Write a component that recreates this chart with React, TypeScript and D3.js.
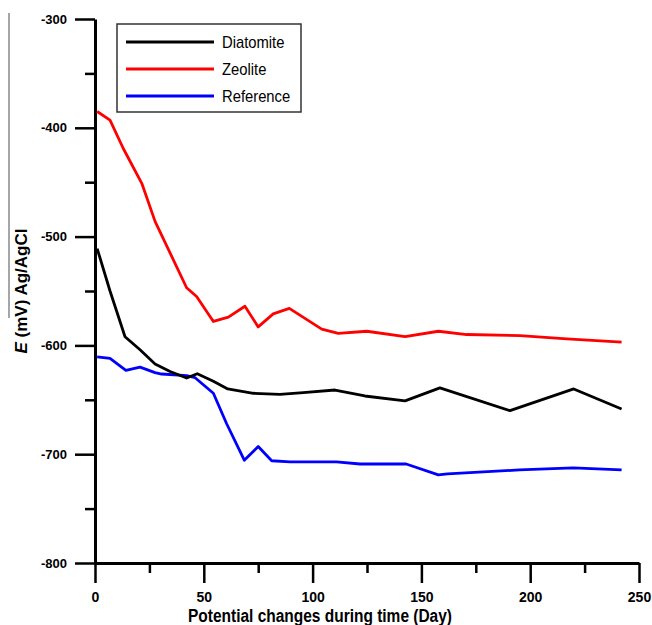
import * as d3 from "d3"
import { useEffect, useRef } from "react"

// Days and potentials (mV vs Ag/AgCl)
const diatomiteDays = [1, 6.9, 13.8, 20.7, 27.6, 34.5, 42.1, 47, 54.4, 61, 72.8, 85, 95.7, 110.3, 124, 142.5, 158.5, 190.7, 220, 242]
const diatomiteE = [-511, -550, -592, -604, -617, -624, -630, -626, -633, -640, -644, -645, -643.4, -641, -646.5, -651, -639, -660, -640, -658.5]

const zeoliteDays = [1, 6.9, 13, 21.5, 27.6, 42.1, 46.7, 54.4, 61.3, 68.9, 75, 81.9, 89.3, 104.2, 111.8, 124.9, 142.5, 157.8, 170.8, 195.3, 216.8, 242]
const zeoliteE = [-385, -393, -419, -451, -486, -547, -555, -578, -574, -564, -583, -571, -566, -585, -589, -587, -592, -587, -590, -591, -594, -597]

const referenceDays = [1, 6.9, 14.2, 20.7, 27.6, 30.6, 42.1, 46, 54.4, 60.5, 68.6, 75, 81.2, 89.6, 111, 121.8, 143, 157.8, 162, 195, 219.8, 242]
const referenceE = [-610.5, -612, -623, -620, -625, -626.3, -627.8, -629.7, -644, -672, -705.5, -693, -706, -707, -707, -709, -709, -719, -718, -714.5, -712.5, -714.5]

const seriesNames = ["Diatomite", "Zeolite", "Reference"]
const seriesColors = ["#000000", "#ff0000", "#0000ff"]

const xMajorTicks = [0, 50, 100, 150, 200, 250]
const xMinorTicks = [25, 75, 125, 175, 225]
const yMajorTicks = [-300, -400, -500, -600, -700, -800]
const yMinorTicks = [-350, -450, -550, -650, -750]

const FONT = "'Liberation Sans', Arial, sans-serif"

const App = () => {
  const svgRef = useRef<SVGSVGElement | null>(null)

  useEffect(() => {
    document.body.style.margin = "0"
    if (!svgRef.current) return

    const svg = d3.select(svgRef.current)
    svg.selectAll("*").remove()

    const x = d3.scaleLinear().domain([0, 250]).range([95, 639])
    const y = d3.scaleLinear().domain([-800, -300]).range([563, 19])

    // stray grey rule at the left edge of the original figure
    svg
      .append("line")
      .attr("x1", 9)
      .attr("x2", 9)
      .attr("y1", 13)
      .attr("y2", 318)
      .attr("stroke", "#888")
      .attr("stroke-width", 1.5)

    // y axis (plain hyphen minus, as in the original)
    const yAxis = svg.append("g").attr("transform", `translate(${x(0)},0)`)
    yAxis.call(
      d3
        .axisLeft(y)
        .tickValues(yMajorTicks)
        .tickSize(20)
        .tickSizeOuter(0)
        .tickPadding(8)
        .tickFormat(d => String(d))
    )
    yAxis
      .append("g")
      .call(d3.axisLeft(y).tickValues(yMinorTicks).tickSize(10).tickFormat(() => ""))
      .select(".domain")
      .remove()

    // x axis
    const xAxis = svg.append("g").attr("transform", `translate(0,${y(-800)})`)
    xAxis.call(
      d3
        .axisBottom(x)
        .tickValues(xMajorTicks)
        .tickSize(20)
        .tickSizeOuter(0)
        .tickPadding(9)
        .tickFormat(d => String(d))
    )
    xAxis
      .append("g")
      .call(d3.axisBottom(x).tickValues(xMinorTicks).tickSize(10).tickFormat(() => ""))
      .select(".domain")
      .remove()

    svg.selectAll(".domain").attr("stroke", "#000").attr("stroke-width", 3)
    svg.selectAll(".tick line").attr("stroke", "#000").attr("stroke-width", 2.5)
    svg
      .selectAll(".tick text")
      .attr("fill", "#000")
      .style("font-family", FONT)
      .style("font-weight", "bold")
    yAxis.selectAll(".tick text").style("font-size", "13px")
    xAxis.selectAll(".tick text").style("font-size", "14px")

    // series lines
    const series = [
      { name: seriesNames[0], color: seriesColors[0], days: diatomiteDays, values: diatomiteE },
      { name: seriesNames[1], color: seriesColors[1], days: zeoliteDays, values: zeoliteE },
      { name: seriesNames[2], color: seriesColors[2], days: referenceDays, values: referenceE }
    ]

    const line = d3
      .line<[number, number]>()
      .x(d => x(d[0]))
      .y(d => y(d[1]))

    const drawOrder = [2, 1, 0]
    drawOrder.forEach(i => {
      const s = series[i]
      const pts = s.days.map((d, j) => [d, s.values[j]] as [number, number])
      svg
        .append("path")
        .datum(pts)
        .attr("d", line)
        .attr("fill", "none")
        .attr("stroke", s.color)
        .attr("stroke-width", 2.8)
        .attr("stroke-linejoin", "round")
    })

    // legend
    const legend = svg.append("g")
    legend
      .append("rect")
      .attr("x", 117)
      .attr("y", 24)
      .attr("width", 184)
      .attr("height", 88)
      .attr("fill", "#fff")
      .attr("stroke", "#333")
      .attr("stroke-width", 1.5)

    series.forEach((s, i) => {
      const ly = 42 + i * 27
      legend
        .append("line")
        .attr("x1", 126)
        .attr("x2", 214)
        .attr("y1", ly)
        .attr("y2", ly)
        .attr("stroke", s.color)
        .attr("stroke-width", 2.8)
      legend
        .append("text")
        .attr("transform", `translate(222,${ly + 6}) scale(0.87,1)`)
        .style("font-family", FONT)
        .style("font-size", "17px")
        .attr("fill", "#000")
        .text(s.name)
    })

    // x title
    svg
      .append("text")
      .attr("x", 320)
      .attr("y", 621.5)
      .attr("text-anchor", "middle")
      .attr("textLength", 264)
      .attr("lengthAdjust", "spacingAndGlyphs")
      .style("font-family", FONT)
      .style("font-size", "17.5px")
      .style("font-weight", "bold")
      .text("Potential changes during time (Day)")

    // y title
    const yTitle = svg
      .append("text")
      .attr("transform", "translate(27,291) rotate(-90)")
      .attr("text-anchor", "middle")
      .style("font-family", FONT)
      .style("font-size", "17px")
      .style("font-weight", "bold")
    yTitle.append("tspan").style("font-style", "italic").text("E")
    yTitle.append("tspan").text(" (mV) Ag/AgCl")
  }, [])

  return (
    <svg
      ref={svgRef}
      width={652}
      height={625}
      style={{ display: "block", background: "#fff" }}
    />
  )
}

export default App
